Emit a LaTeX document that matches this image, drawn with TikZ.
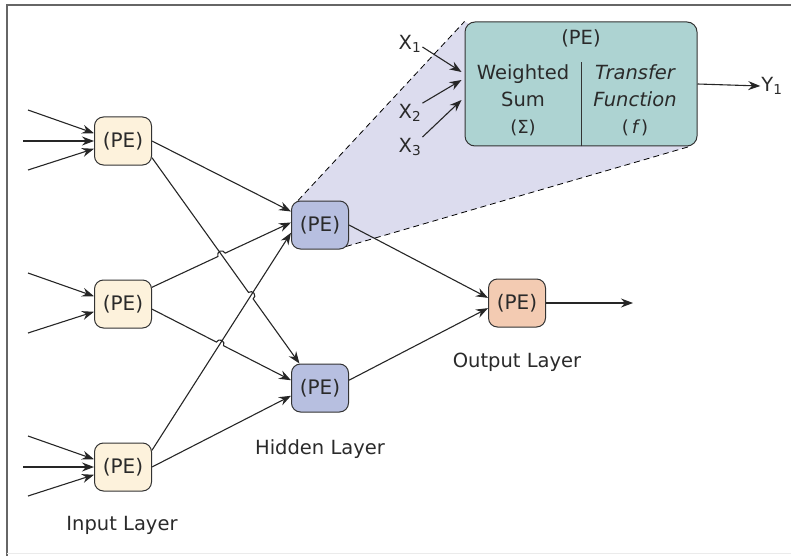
\documentclass[tikz,border=0pt]{standalone}
\usepackage{fontspec}
\setmainfont{DejaVu Sans}
\usetikzlibrary{arrows.meta, calc, intersections, backgrounds}
\definecolor{inFill}{HTML}{FDF2DC}
\definecolor{hidFill}{HTML}{B7BFE0}
\definecolor{outFill}{HTML}{F3CBB2}
\definecolor{sumFill}{HTML}{ADD3D2}
\definecolor{zoomFill}{HTML}{DCDCEE}
\definecolor{inkGray}{HTML}{2A2A2A}
% wire with a small hop over the line it crosses at #3
\newcommand{\hopwire}[3]{%
  \draw[wire] let \p1=($(#2)-(#1)$), \n1={atan2(\y1,\x1)} in
    (#1) -- ($(#3)!4pt!(#1)$)
    arc[start angle=\n1+180, delta angle=-180, radius=4pt] -- (#2);}

\begin{document}
\begin{tikzpicture}[
  x=1pt, y=1pt, >={Stealth[length=12pt,width=9pt,inset=4pt]},
  pe/.style    = {rectangle, rounded corners=9pt, draw=black!80, line width=1pt,
                  minimum width=57pt, minimum height=48pt, inner sep=0pt,
                  text=inkGray, font=\fontsize{20}{22}\selectfont},
  inpe/.style  = {pe, fill=inFill},
  hidpe/.style = {pe, fill=hidFill},
  outpe/.style = {pe, fill=outFill},
  wire/.style  = {->, line width=1.1pt, draw=black!85},
  zoomedge/.style = {dash pattern=on 6pt off 4pt, line width=0.8pt},
  lbl/.style   = {text=inkGray, inner sep=1pt, font=\fontsize{19.5}{27}\selectfont}
]
  \useasboundingbox (0,0) rectangle (791,-556);
  \draw[black!60, line width=2pt] (7,-556) -- (7,-5) -- (791,-5);
  \draw[black!8] (7,-553) -- (791,-553);

  % processing elements
  \node[inpe]  (in1) at (123,-141) {(PE)};
  \node[inpe]  (in2) at (123,-304) {(PE)};
  \node[inpe]  (in3) at (123,-467) {(PE)};
  \node[hidpe] (hid1) at (320,-225) {(PE)};
  \node[hidpe] (hid2) at (320,-388) {(PE)};
  \node[outpe] (out)  at (517,-303) {(PE)};

  \node[lbl] (inlay)  at (122,-525) {Input Layer};
  \node[lbl] (hidlay) at (320,-449) {Hidden Layer};
  \node[lbl] (outlay) at (517,-362) {Output Layer};

  % close-up of one element
  \node[rectangle, rounded corners=10pt, draw=black!80, line width=1pt,
        fill=sumFill, minimum width=232pt, minimum height=124pt] (sum) at (581,-84) {};
  \draw[line width=1pt, black!80] (sum.south) -- ([yshift=22pt]sum.center);
  \node[lbl] (sumpe) at (581,-38) {(PE)};
  \node[lbl, align=center] (wsum) at (523,-100)
    {Weighted\\Sum\\{\fontsize{18}{20}\selectfont(Σ)}};
  \node[lbl, align=center, font=\fontsize{19.5}{27}\selectfont\itshape] (tfun) at (635,-100)
    {Transfer\\Function\\{\fontsize{18}{20}\selectfont\upshape(\,\itshape f\upshape\,)}};

  \begin{scope}[on background layer]
    \fill[zoomFill] ([xshift=7pt]hid1.north west) -- (sum.north west)
      -- ([xshift=-8pt]sum.south east) -- ([shift={(-3pt,3pt)}]hid1.south east) -- cycle;
    \draw[zoomedge] ([xshift=7pt]hid1.north west) -- (sum.north west);
    \draw[zoomedge] ([shift={(-3pt,3pt)}]hid1.south east) -- ([xshift=-8pt]sum.south east);
  \end{scope}

  \node[lbl] (x1) at (410,-44) {X\textsubscript{1}};
  \node[lbl] (x2) at (410,-113) {X\textsubscript{2}};
  \node[lbl] (x3) at (410,-147) {X\textsubscript{3}};
  \node[lbl] (y1) at (772,-86) {Y\textsubscript{1}};
  \draw[wire] ([yshift=-3pt]x1.east) -- ([shift={(-3pt,12pt)}]sum.west);
  \draw[wire] (x2.north east) -- ([shift={(-3pt,4pt)}]sum.west);
  \draw[wire] (x3.north east) -- ([shift={(-3pt,-16pt)}]sum.west);
  \draw[wire] (sum.east) -- (y1.west);

  % inputs
  \foreach \k in {1,2,3} {
    \draw[wire] ($(in\k.west)+(-66,31)$) coordinate (u\k) -- (in\k.165);
    \draw[wire] ($(in\k.west)+(-66,-29)$) coordinate (d\k) -- (in\k.195);
  }
  \foreach \k in {1,3}
    \draw[wire] ($(in\k.west)+(-71,0)$) coordinate (m\k) -- (in\k.west);

  % crossings
  \path[name path=pa] (in1.-30) -- (hid2.130);
  \path[name path=pb] (in2.30) -- (hid1.175);
  \path[name path=pc] (in3.30) -- (hid1.195);
  \path[name path=pd] (in2.-10) -- (hid2.165);
  \path[name intersections={of=pb and pa, by=xa}];
  \path[name intersections={of=pa and pc, by=xb}];
  \path[name intersections={of=pd and pc, by=xc}];

  \draw[wire] (in1.east) -- (hid1.155);
  \hopwire{in1.-30}{hid2.130}{xb}
  \hopwire{in2.30}{hid1.175}{xa}
  \hopwire{in2.-10}{hid2.165}{xc}
  \draw[wire] (in3.30) -- (hid1.195);
  \draw[wire] (in3.east) -- (hid2.195);

  \draw[wire] (hid1.east) -- (out.170);
  \draw[wire] (hid2.15) -- (out.190);
  \coordinate (yout) at (633,-303);
  \draw[wire] (out.east) -- (yout);
\end{tikzpicture}
\end{document}
